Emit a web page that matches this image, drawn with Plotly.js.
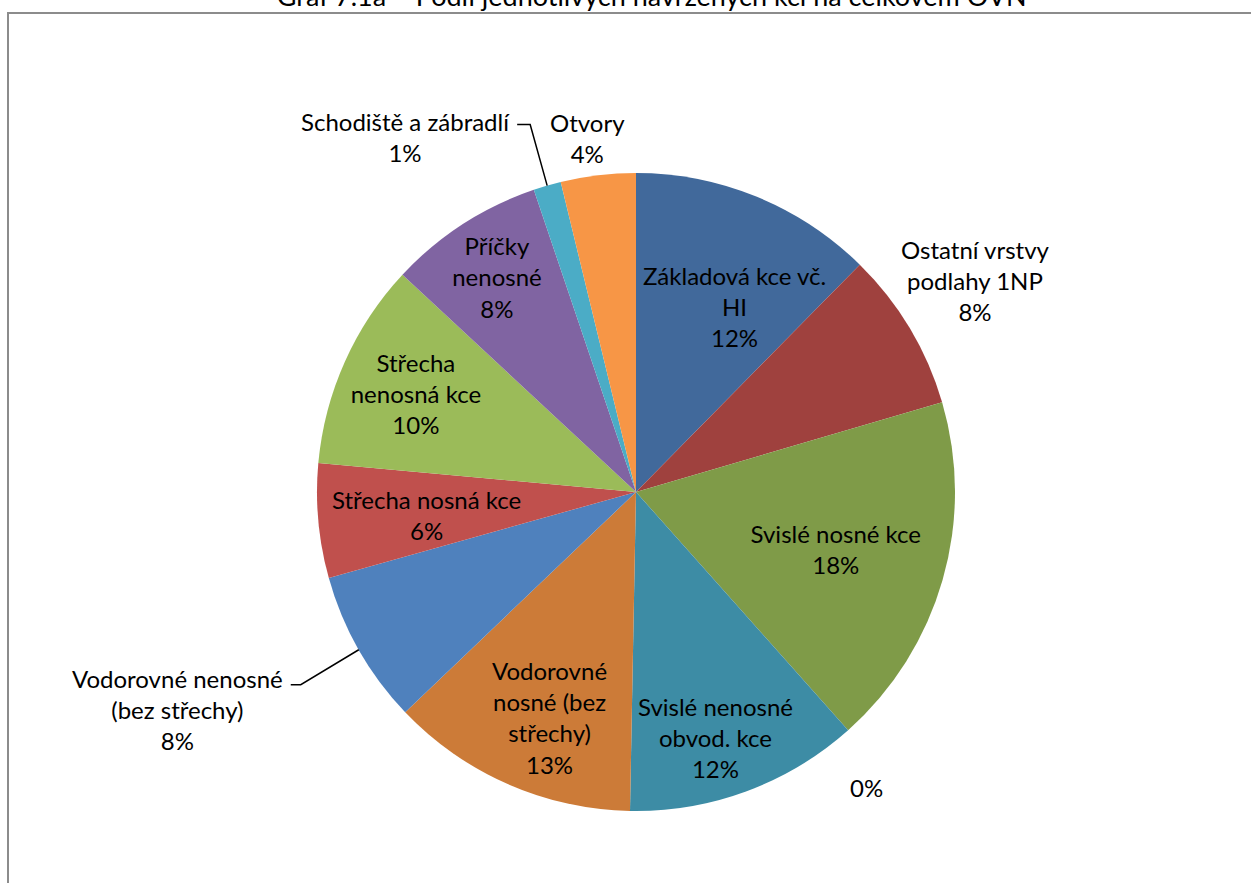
<!DOCTYPE html>
<html>
<head>
<meta charset="utf-8">
<script src="https://cdn.plot.ly/plotly-3.0.1.min.js"></script>
<style>
html,body{margin:0;padding:0;background:#fff;}
#chart{width:1251px;height:883px;}
</style>
</head>
<body>
<div id="chart"></div>
<script>
const titleText = "Graf 7.1a – Podíl jednotlivých navržených kcí na celkovém OVN";
const categories = [
  "Základová kce vč.<br>HI",
  "Ostatní vrstvy<br>podlahy 1NP",
  "Svislé nosné kce",
  "",
  "Svislé nenosné<br>obvod. kce",
  "Vodorovné<br>nosné (bez<br>střechy)",
  "Vodorovné nenosné<br>(bez střechy)",
  "Střecha nosná kce",
  "Střecha<br>nenosná kce",
  "Příčky<br>nenosné",
  "Schodiště a zábradlí",
  "Otvory"
];
const values = [12.4, 8.1, 18.0, 0, 11.9, 12.6, 7.8, 5.8, 10.5, 7.9, 1.4, 3.8];
const colors = ["#41699B","#9F413E","#7F9B48","#664F82","#3D8CA5","#CC7B38",
                "#4F81BD","#C0504D","#9BBB59","#8064A2","#4BACC6","#F79646"];

const FONT = "Lato, 'Open Sans', sans-serif";
const FS = 24;

const L = 317, R = 955, T = 173, B = 811;
const W = 1251, H = 883;
const pw = R - L, ph = B - T;
const px = x => (x - L) / pw;
const py = y => (B - y) / ph;
const dxp = d => d / pw;   // pixel offset -> paper
const dyp = d => -d / ph;  // pixel offset (down positive) -> paper

const total = values.reduce((a, b) => a + b, 0);
const pctText = v => Math.round(v / total * 100) + "%";

// point on a slice's mid-angle ray at a fraction of the radius (paper coords)
function slicePoint(i, rf) {
  let before = 0;
  for (let k = 0; k < i; k++) before += values[k];
  const th = (before + values[i] / 2) / total * 2 * Math.PI;
  return {x: 0.5 + 0.5 * rf * Math.sin(th), y: 0.5 + 0.5 * rf * Math.cos(th)};
}

// labels placed by annotation: [radius fraction, dx px, dy px, leader elbows]
const placed = {
  0:  [0.66, 19, 9, null],
  1:  [1.0, 66, -48, null],
  4:  [0.81, -10, 3, null],
  5:  [0.76, 11, 4, null],
  6:  [1.0, -181, 60, [[-58, 35], [-68, 35]]],
  7:  [0.66, 0, 4, null],
  10: [1.0, -142, -49, [[-17, -61], [-30, -61]]],
  11: [1.0, -11, -37, null]
};

const native = i => categories[i] !== "" && !(i in placed);

const trace = {
  type: "pie",
  labels: categories.map((c, i) => c === "" ? "zero" + i : c),
  values: values,
  sort: false,
  direction: "clockwise",
  rotation: 0,
  marker: {colors: colors, line: {width: 0}},
  texttemplate: categories.map((c, i) => native(i) ? "%{label}<br>%{percent:.0%}" : ""),
  textposition: categories.map((c, i) => native(i) ? "inside" : "none"),
  insidetextorientation: "horizontal",
  textfont: {family: FONT, size: FS, color: "#000"},
  insidetextfont: {family: FONT, size: FS, color: "#000"},
  hoverinfo: "label+percent",
  showlegend: false
};

const annotations = [];
const shapes = [{
  type: "rect", xref: "paper", yref: "paper",
  x0: px(8), x1: px(1262), y0: py(895), y1: py(13),
  line: {color: "#8c8c8c", width: 2}, fillcolor: "rgba(0,0,0,0)", layer: "below"
}];

Object.keys(placed).forEach(key => {
  const i = +key;
  const [rf, ox, oy, elbows] = placed[i];
  const e = slicePoint(i, rf);
  annotations.push({
    text: categories[i] + "<br>" + pctText(values[i]),
    xref: "paper", yref: "paper",
    x: e.x + dxp(ox), y: e.y + dyp(oy),
    xanchor: "center", yanchor: "middle", showarrow: false,
    font: {family: FONT, size: FS, color: "#000"}
  });
  if (elbows) {
    let path = "M " + e.x + "," + e.y;
    elbows.forEach(p => {
      path += " L " + (e.x + dxp(p[0])) + "," + (e.y + dyp(p[1]));
    });
    shapes.push({type: "path", xref: "paper", yref: "paper", path: path,
                 line: {color: "#000", width: 1.5}});
  }
});

// zero-value slice label (Plotly draws no text for an empty slice)
const zi = categories.indexOf("");
const ze = slicePoint(zi, 1.0);
annotations.push({
  text: pctText(values[zi]), xref: "paper", yref: "paper",
  x: ze.x + dxp(18), y: ze.y + dyp(57),
  xanchor: "center", yanchor: "middle", showarrow: false,
  font: {family: FONT, size: FS, color: "#000"}
});

const layout = {
  width: W, height: H,
  margin: {l: L, r: W - R, t: T, b: H - B, pad: 0},
  paper_bgcolor: "#fff",
  plot_bgcolor: "#fff",
  showlegend: false,
  uniformtext: {mode: "show", minsize: FS},
  title: {
    text: titleText,
    font: {family: FONT, size: 27, color: "#000"},
    x: 0.521, xanchor: "center",
    y: 1 - 6 / H, yref: "container", yanchor: "bottom"
  },
  shapes: shapes,
  annotations: annotations
};

Plotly.newPlot("chart", [trace], layout, {displayModeBar: false, staticPlot: true});
</script>
</body>
</html>
